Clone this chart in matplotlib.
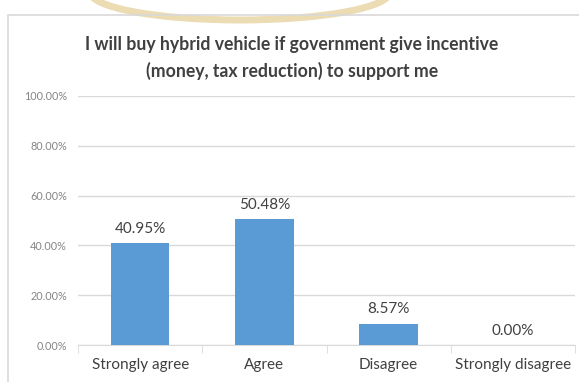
import numpy as np
import matplotlib
matplotlib.use("Agg")
from matplotlib import pyplot as plt
from matplotlib.patches import Rectangle, Ellipse
from matplotlib.ticker import PercentFormatter

# survey answers and their shares
categories = ['Strongly agree', 'Agree', 'Disagree', 'Strongly disagree']
shares = [40.95, 50.48, 8.57, 0.00]
y_ticks = [0, 20, 40, 60, 80, 100]
title = ('I will buy hybrid vehicle if government give incentive\n'
         '(money, tax reduction) to support me')

plt.rcParams['font.family'] = ['Lato', 'DejaVu Sans']

W, H = 579, 382
fig = plt.figure(figsize=(W / 100, H / 100), dpi=100)
fig.patch.set_facecolor('white')

# faint logo ring peeking in from the top
ring = Ellipse((240 / W, 1 - (-8) / H), 300 / W, 56 / H, transform=fig.transFigure,
               fill=False, edgecolor='#ecdcb4', linewidth=5, zorder=0)
fig.add_artist(ring)

# chart frame
frame = Rectangle((8 / W, -0.1), 1.2, 1 - 15 / H + 0.1, transform=fig.transFigure,
                  fill=False, edgecolor='#d9d9d9', linewidth=1.2, zorder=1)
fig.add_artist(frame)

ax = fig.add_axes([78 / W, 1 - 345 / H, (575 - 78) / W, (345 - 96) / H])
x = np.arange(len(categories))
bars = ax.bar(x, shares, width=0.47, color='#5b9bd5', zorder=3)

for xi, v in zip(x, shares):
    ax.text(xi, v + 3.0, f'{v:.2f}%', ha='center', va='bottom',
            fontsize=11, color='#404040')

ax.set_xlim(-0.5, len(categories) - 0.5)
ax.set_ylim(0, 100)
ax.set_yticks(y_ticks)
ax.yaxis.set_major_formatter(PercentFormatter(decimals=2))
ax.grid(axis='y', color='#d9d9d9', linewidth=1, zorder=0)
ax.set_axisbelow(True)

ax.set_xticks(x)
ax.set_xticklabels(categories, fontsize=11, color='#404040')
ax.set_xticks(np.arange(-0.5, len(categories)), minor=True)
ax.tick_params(axis='x', which='major', length=0, pad=9)
ax.tick_params(axis='x', which='minor', length=6, color='#d9d9d9')
ax.tick_params(axis='y', length=0, labelsize=7.8, labelcolor='#858585', pad=8)

for side in ['top', 'right', 'left']:
    ax.spines[side].set_visible(False)
ax.spines['bottom'].set_color('#d9d9d9')

fig.text(292 / W, 1 - 58 / H, title, ha='center', va='center',
         fontsize=12.7, color='#404040', fontweight='bold', linespacing=1.55)

fig.savefig('out.png', dpi=100)
